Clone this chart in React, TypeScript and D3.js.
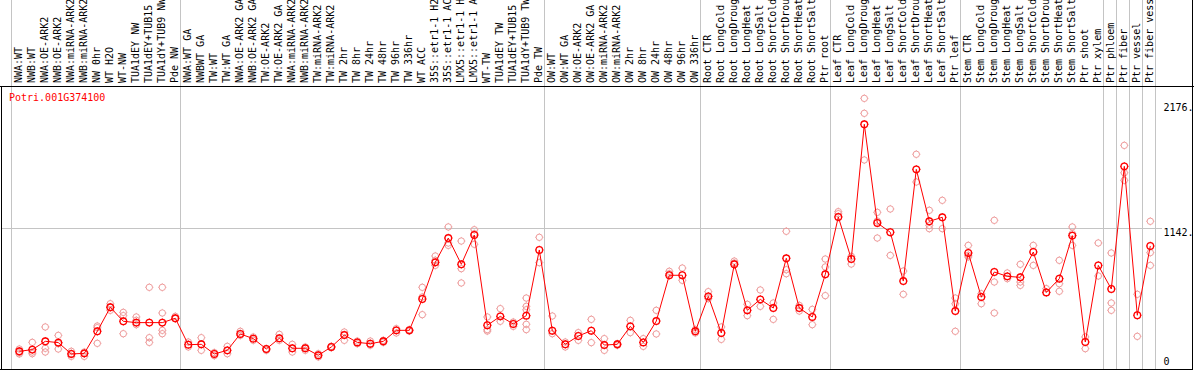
import React from "react";
import * as d3 from "d3";

const geneId = "Potri.001G374100";

const sampleLabels: string[] = [
  "NWA:WT", "NWB:WT", "NWA:OE-ARK2", "NWB:OE-ARK2", "NWA:miRNA-ARK2", "NWB:miRNA-ARK2",
  "NW 0hr", "WT H2O", "WT-NW", "TUA1dEY NW", "TUA1dEY+TUB15", "TUA1dY+TUB9 NW", "Pde NW",
  "NWA:WT GA", "NWBWT GA", "TW:WT", "TW:WT GA", "NWA:OE-ARK2 GA", "NWB:OE-ARK2 GA",
  "TW:OE-ARK2", "TW:OE-ARK2 GA", "NWA:miRNA-ARK2", "NWB:miRNA-ARK2", "TW:miRNA-ARK2",
  "TW:miRNA-ARK2", "TW 2hr", "TW 8hr", "TW 24hr", "TW 48hr", "TW 96hr", "TW 336hr",
  "WT ACC", "35S::etr1-1 H2", "35S::etr1-1 AC", "LMX5::etr1-1 H", "LMX5::etr1-1 A",
  "WT-TW", "TUA1dEY TW", "TUA1dEY+TUB15", "TUA1dY+TUB9 TW", "Pde TW",
  "OW:WT", "OW:WT GA", "OW:OE-ARK2", "OW:OE-ARK2 GA", "OW:miRNA-ARK2", "OW:miRNA-ARK2",
  "OW 2hr", "OW 8hr", "OW 24hr", "OW 48hr", "OW 96hr", "OW 336hr",
  "Root CTR", "Root LongCold", "Root LongDroug", "Root LongHeat", "Root LongSalt",
  "Root ShortCold", "Root ShortDrou", "Root ShortHeat", "Root ShortSalt", "Ptr root",
  "Leaf CTR", "Leaf LongCold", "Leaf LongDroug", "Leaf LongHeat", "Leaf LongSalt",
  "Leaf ShortCold", "Leaf ShortDrou", "Leaf ShortHeat", "Leaf ShortSalt", "Ptr leaf",
  "Stem CTR", "Stem LongCold", "Stem LongDroug", "Stem LongHeat", "Stem LongSalt",
  "Stem ShortCold", "Stem ShortDrou", "Stem ShortHeat", "Stem ShortSalt", "Ptr shoot",
  "Ptr xylem", "Ptr phloem", "Ptr fiber", "Ptr vessel", "Ptr fiber vess",
];

const meanValues: number[] = [
  122, 136, 205, 194, 100, 105, 288, 487, 371, 360, 360, 360, 396,
  177, 180, 100, 130, 266, 227, 141, 230, 147, 147, 89, 158, 257, 196, 185, 205, 296, 296,
  556, 860, 1062, 844, 1087, 338, 412, 349, 418, 963,
  293, 180, 249, 293, 174, 180, 329, 196, 373, 753, 753, 288,
  578, 274, 844, 462, 553, 481, 894, 481, 407, 761,
  1237, 888, 2006, 1187, 1110, 705, 1632, 1201, 1234, 456,
  938, 573, 780, 744, 736, 946, 611, 725, 1082, 199, 835,
  639, 1657, 421, 996,
];

const replicateValues: number[][] = [
  [141, 111, 100], [196, 102, 116], [324, 147, 116], [254, 141, 185], [122, 80, 102],
  [116, 80, 102], [332, 318, 188], [517, 490, 462], [445, 418, 268], [407, 343, 379],
  [653, 235, 196], [653, 440, 296, 268], [412, 393],
  [199, 158], [235, 130], [111, 86], [163, 102], [288, 254], [241, 213], [141, 130],
  [263, 213], [180, 116], [158, 130], [102, 75], [163, 152], [282, 213], [207, 185],
  [207, 172], [213, 196], [310, 274], [302, 290], [653, 573, 426], [913, 835, 877],
  [1154, 1021, 1001], [1037, 808, 689], [1131, 1098, 1010], [407, 302, 290], [476, 371],
  [365, 329], [564, 495, 467, 346, 302], [1068, 858],
  [415, 268], [199, 158], [277, 213], [387, 194], [227, 130], [185, 172], [379, 277],
  [227, 163], [462, 266], [786, 766], [813, 711], [302, 274],
  [617, 559], [324, 221], [871, 855], [512, 418], [631, 495], [523, 387],
  [1118, 799, 766], [503, 456], [470, 343], [888, 822, 584],
  [1281, 1264], [910, 846], [2221, 2097, 1710], [1275, 1203, 1062], [1303, 918],
  [788, 595], [1757, 1527], [1292, 1140, 1167], [1375, 1140], [564, 288, 517],
  [1001, 905, 918], [600, 517], [1209, 697, 440], [772, 725], [844, 697, 669],
  [1001, 835], [642, 609], [877, 683, 620], [1154, 1001, 1098], [241, 144], [1021, 747],
  [938, 523, 462], [1831, 1604, 1541], [595, 246], [1201, 941, 835],
];

const groupBreaks: number[] = [0, 13, 41, 53, 63, 73, 84, 85, 86, 87, 88];
const yTicks: number[] = [0, 1142, 2176];
const yTickLabels: string[] = ["0", "1142.", "2176."];

const W = 1194;
const H = 370;
const FONT = "'DejaVu Sans Mono', 'Liberation Mono', monospace";

function Marker({ cx, cy, color, r, sw, t }: { cx: number; cy: number; color: string; r: number; sw: number; t: number }) {
  const d = `M${cx},${cy - r - t}v${t}M${cx},${cy + r}v${t}M${cx - r - t},${cy}h${t}M${cx + r},${cy}h${t}`;
  return (
    <g>
      <circle cx={cx} cy={cy} r={r} fill="none" stroke={color} strokeWidth={sw} />
      <path d={d} stroke={color} strokeWidth={0.9} fill="none" />
    </g>
  );
}

export default function App() {
  const n = sampleLabels.length;
  const xEdge = d3.scaleLinear().domain([0, n]).range([10.8, 10.8 + 13 * n]);
  const cx = (i: number) => xEdge(i) + 8.5;
  const y = d3.scaleLinear().domain([0, 2176]).range([366, 103.8]);

  const line = d3
    .line<number>()
    .x((_, i) => cx(i))
    .y((d) => y(d));

  const pink = "#ee9c9c";
  const red = "#ff0000";
  const grid = "#c4c4c4";

  return (
    <svg
      width={W}
      height={H}
      style={{ position: "absolute", left: 0, top: 0, background: "#fff" }}
      fontFamily={FONT}
    >
      <rect x={0} y={0} width={W} height={H} fill="#fff" />
      {groupBreaks.map((b) => (
        <line key={"g" + b} x1={Math.round(xEdge(b)) + 0.5} x2={Math.round(xEdge(b)) + 0.5} y1={0} y2={369} stroke={grid} strokeWidth={1} />
      ))}
      <line x1={2} x2={1162} y1={Math.round(y(1142)) + 0.5} y2={Math.round(y(1142)) + 0.5} stroke={grid} strokeWidth={1} />

      <line x1={0} x2={W} y1={86.5} y2={86.5} stroke="#000" strokeWidth={1} />
      <line x1={0} x2={1192} y1={369.5} y2={369.5} stroke="#000" strokeWidth={1} />
      <line x1={1.5} x2={1.5} y1={86} y2={370} stroke="#000" strokeWidth={1} />
      <line x1={1192.5} x2={1192.5} y1={0} y2={370} stroke="#000" strokeWidth={1} />

      {sampleLabels.map((s, i) => (
        <text
          key={"l" + i}
          transform={`translate(${cx(i) + 3},83) rotate(-90)`}
          fontSize={10}
          fill="#000"
        >
          {s}
        </text>
      ))}

      <text x={9} y={101} fontSize={10} fill={red}>
        {geneId}
      </text>

      {yTicks.map((t, k) => (
        <text
          key={"t" + t}
          x={1163.5}
          y={t === 0 ? y(t) - 1 : y(t) + 7.6}
          fontSize={10}
          fill="#000"
        >
          {yTickLabels[k]}
        </text>
      ))}

      {replicateValues.map((reps, i) =>
        reps.map((v, j) => <Marker key={`r${i}-${j}`} cx={cx(i)} cy={y(v)} color={pink} r={3.2} sw={1} t={0.9} />)
      )}

      <path d={line(meanValues) || ""} fill="none" stroke={red} strokeWidth={1} />

      {meanValues.map((v, i) => (
        <Marker key={"m" + i} cx={cx(i)} cy={y(v)} color={red} r={3.3} sw={1.3} t={1} />
      ))}
    </svg>
  );
}
